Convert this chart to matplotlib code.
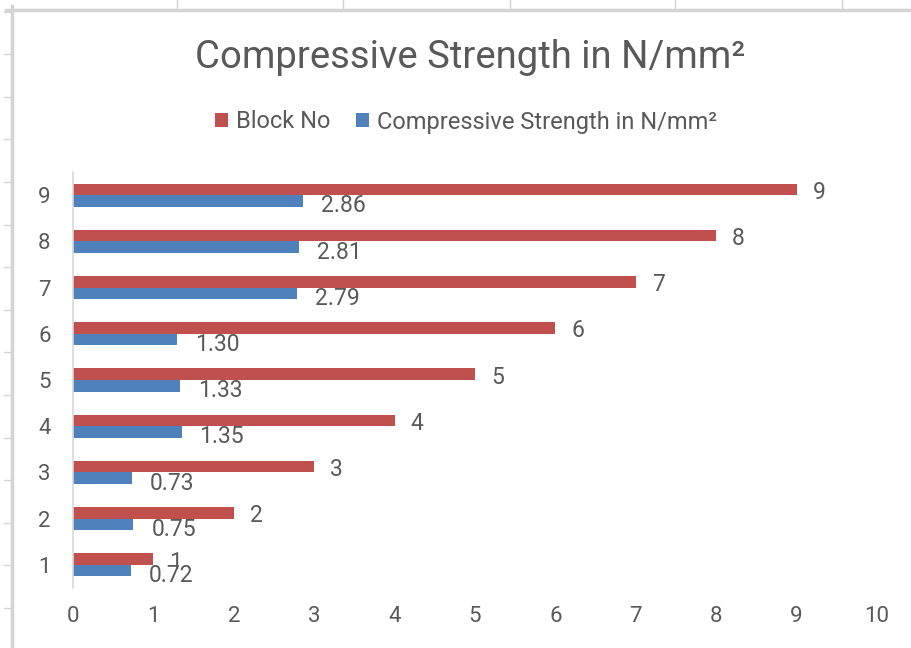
import matplotlib.pyplot as plt
import numpy as np
from matplotlib.lines import Line2D

# Data
block_no = [1, 2, 3, 4, 5, 6, 7, 8, 9]
strength = [0.72, 0.75, 0.73, 1.35, 1.33, 1.30, 2.79, 2.81, 2.86]
x_ticks = [0, 1, 2, 3, 4, 5, 6, 7, 8, 9, 10]

RED = "#C0504D"
BLUE = "#4F81BD"
TEXT = "#595959"

plt.rcParams["font.family"] = ["Roboto", "DejaVu Sans"]

fig = plt.figure(figsize=(9.12, 6.48), dpi=100)
ax = fig.add_axes([0.080, 0.0926, 0.8816, 0.642])

y = np.array(block_no, dtype=float)
h = 0.25
bars_red = ax.barh(y + h / 2, block_no, height=h, color=RED, label="Block No")
bars_blue = ax.barh(y - h / 2, strength, height=h, color=BLUE,
                    label="Compressive Strength in N/mm²")

# Data labels
for val, yy in zip(block_no, y + h / 2):
    ax.annotate(f"{val}", (val, yy), xytext=(16, -3), textcoords="offset pixels",
                ha="left", va="center", fontsize=16.5, color=TEXT)
for val, yy in zip(strength, y - h / 2):
    ax.annotate(f"{val:.2f}", (val, yy), xytext=(18, -5), textcoords="offset pixels",
                ha="left", va="center", fontsize=16.5, color=TEXT)

ax.set_xlim(0, 10)
ax.set_ylim(0.5, 9.5)
ax.set_xticks(x_ticks)
ax.set_yticks(block_no)
ax.tick_params(length=0, labelsize=16, labelcolor=TEXT)
ax.tick_params(axis="x", pad=13)
ax.tick_params(axis="y", pad=16)
for side in ["top", "right", "bottom"]:
    ax.spines[side].set_visible(False)
ax.spines["left"].set_color("#D9D9D9")
ax.spines["left"].set_linewidth(1.2)

fig.text(0.515, 1 - 57 / 648, "Compressive Strength in N/mm²", ha="center", va="center",
         fontsize=27.5, color=TEXT)
fig.legend(handles=[bars_red, bars_blue], loc="center",
           bbox_to_anchor=(466 / 912, 1 - 122 / 648), ncol=2, frameon=False,
           fontsize=17, labelcolor=TEXT, handlelength=0.55, handleheight=0.55,
           handletextpad=0.35, columnspacing=1.1)

# Spreadsheet grid remnants around the chart
W, H = 912, 648
grey = "#D4D4D4"
fig.add_artist(Line2D([12 / W, 12 / W], [0, 1 - 6 / H], color=grey, lw=2.5))
fig.add_artist(Line2D([6 / W, 1], [1 - 10 / H, 1 - 10 / H], color=grey, lw=2.5))
for py in np.arange(11.6, H, 42.6):
    fig.add_artist(Line2D([4 / W, 12 / W], [1 - py / H, 1 - py / H], color=grey, lw=1))
for px in [177, 343, 510, 675, 842]:
    fig.add_artist(Line2D([px / W, px / W], [1, 1 - 10 / H], color=grey, lw=1))

fig.savefig("out.png", dpi=100)
